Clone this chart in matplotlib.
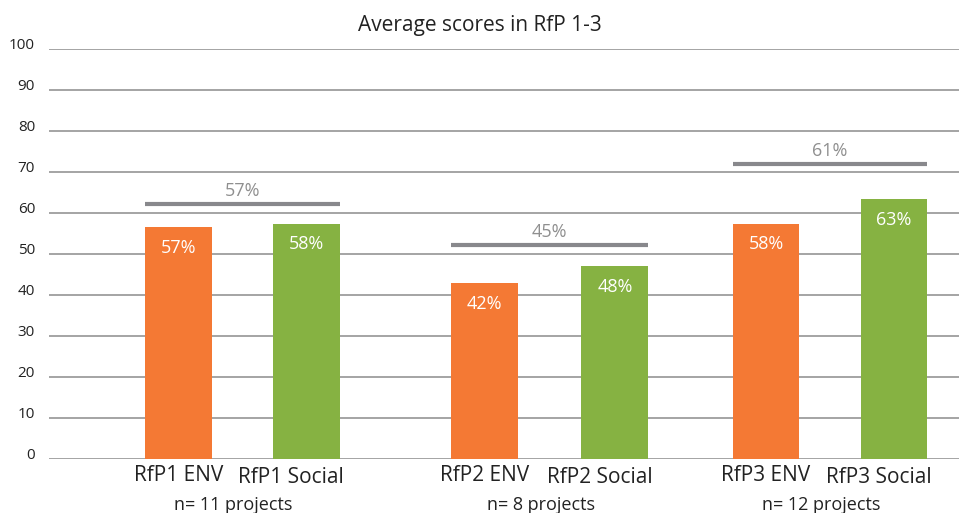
import matplotlib
matplotlib.use("Agg")
import matplotlib.pyplot as plt
import matplotlib.transforms as mtransforms

plt.rcParams['font.family'] = ['Open Sans', 'DejaVu Sans']

# data
categories = ["RfP1 ENV", "RfP1 Social", "RfP2 ENV", "RfP2 Social", "RfP3 ENV", "RfP3 Social"]
scores = [56.5, 57.4, 42.9, 47.1, 57.4, 63.3]
score_labels = ["57%", "58%", "42%", "48%", "58%", "63%"]
group_labels = ["n= 11 projects", "n= 8 projects", "n= 12 projects"]
avg_levels = [62.3, 52.3, 72.0]
avg_labels = ["57%", "45%", "61%"]

# layout (slot units)
x_pos = [0, 1, 2.39, 3.41, 4.59, 5.59]
bar_w = 0.523
orange = "#F47934"
green = "#86B242"
colors = [orange, green] * 3
grid_col = "#8c8c8c"
avg_col = "#88888c"

W, H = 959, 513
fig = plt.figure(figsize=(W / 100, H / 100), dpi=100)
ax = fig.add_axes([49 / W, (H - 459) / H, (W - 49) / W, (459 - 49) / H])

ax.bar(x_pos, scores, width=bar_w, color=colors, zorder=3)
ax.set_xlim(-1.012, 6.098)
ax.set_ylim(0, 100)

# value labels inside the bars
for x, v, lab in zip(x_pos, scores, score_labels):
    ax.annotate(lab, (x, v), xytext=(0, -15), textcoords="offset points",
                ha="center", va="center", color="white", fontsize=13, zorder=4)

# group average lines
for g, (lvl, lab) in enumerate(zip(avg_levels, avg_labels)):
    x1 = x_pos[2 * g] - bar_w / 2
    x2 = x_pos[2 * g + 1] + bar_w / 2
    ax.hlines(lvl, x1, x2, color=avg_col, linewidth=3, zorder=4)
    ax.annotate(lab, ((x1 + x2) / 2, lvl), xytext=(0, 9), textcoords="offset points",
                ha="center", va="center", color="#8f8f8f", fontsize=13)

# axes styling
for s in ax.spines.values():
    s.set_visible(False)
ax.set_yticks(range(0, 101, 10))
ax.yaxis.grid(True, color=grid_col, linewidth=1.1, zorder=0)
ax.set_axisbelow(True)
ax.tick_params(axis="y", length=0, pad=10, labelsize=11, labelcolor="#222222")
ax.tick_params(axis="x", length=0, pad=4, labelsize=15, labelcolor="#222222")
up = mtransforms.ScaledTranslation(0, 4 / 72, fig.dpi_scale_trans)
for lab in ax.get_yticklabels():
    lab.set_transform(lab.get_transform() + up)

ax.set_xticks(x_pos)
ax.set_xticklabels(categories)
shift = mtransforms.ScaledTranslation(-11 / 72, -1.5 / 72, fig.dpi_scale_trans)
for i, lab in enumerate(ax.get_xticklabels()):
    if i % 2 == 1:
        lab.set_transform(lab.get_transform() + shift)

# sample size below each group
for g, lab in enumerate(group_labels):
    xc = (x_pos[2 * g] + x_pos[2 * g + 1]) / 2 - 0.07
    ax.annotate(lab, (xc, 0), xytext=(0, -33), textcoords="offset points",
                ha="center", va="center", fontsize=13, color="#222222",
                annotation_clip=False)

fig.text(479.5 / W, 1 - 26 / H, "Average scores in RfP 1-3", ha="center", va="center",
         fontsize=15, color="#222222")

fig.savefig("out.png", dpi=100)
